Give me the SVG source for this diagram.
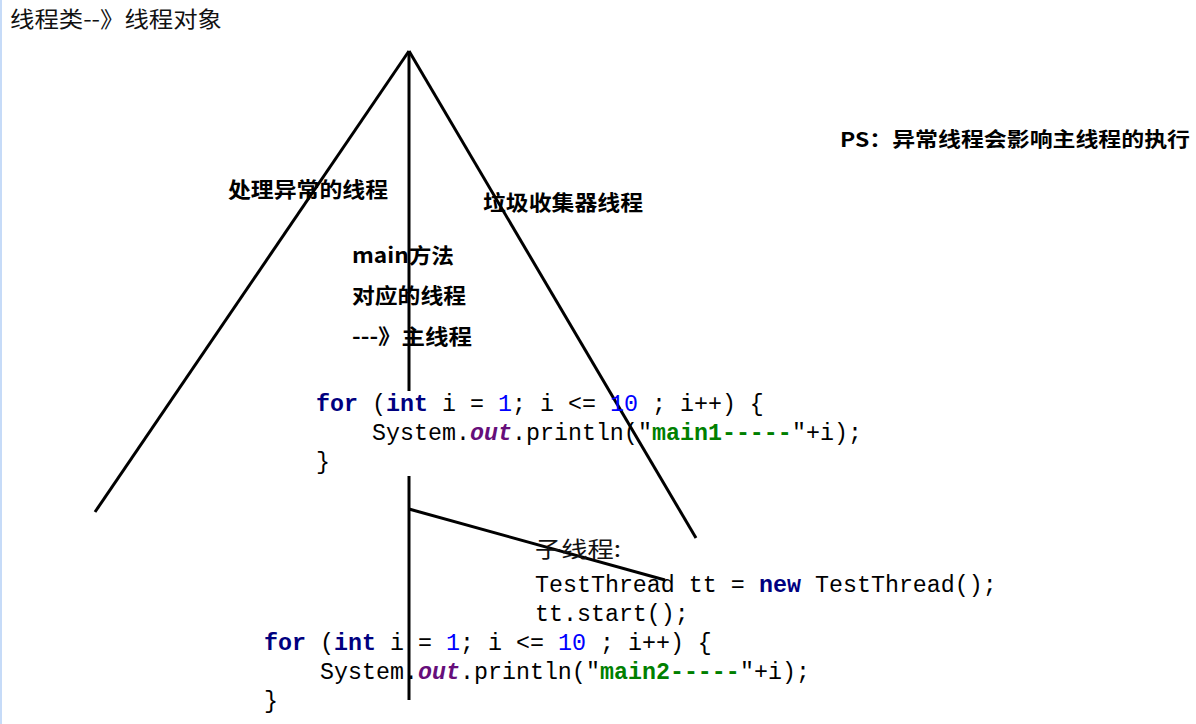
<svg xmlns="http://www.w3.org/2000/svg" width="1196" height="724" viewBox="0 0 1196 724">
<style>
.cjk{font-family:"Noto Sans CJK SC","Noto Sans",sans-serif;fill:#111}
.b{font-weight:bold;font-size:21px;fill:#000}
.code{font-family:"Liberation Mono","DejaVu Sans Mono",monospace;font-size:23.3px;fill:#000}
.kw{font-weight:bold;fill:#00007f}
.num{fill:#0000ff}
.fld{font-weight:bold;font-style:italic;fill:#660e7a}
.str{font-weight:bold;fill:#008000}
.ln{stroke:#000;stroke-width:3;fill:none;stroke-linecap:butt}
</style>
<rect x="0" y="0" width="1196" height="724" fill="#fff"/>
<rect x="0" y="0" width="2" height="724" fill="#c6dbf8"/>
<g id="connectors">
<line class="ln" x1="409" y1="51" x2="95" y2="512" stroke-width="2.5"/>
<line class="ln" x1="409" y1="51" x2="696" y2="538" stroke-width="2.5"/>
<line class="ln" x1="409" y1="51" x2="409" y2="391"/>
<line class="ln" x1="409" y1="476" x2="409" y2="700"/>
<line class="ln" x1="409" y1="509" x2="665" y2="580"/>
</g>
<g id="title"><text class="cjk" x="10" y="27" font-size="22" textLength="212" lengthAdjust="spacingAndGlyphs">线程类--》线程对象</text></g>
<g id="ps-note"><text class="cjk b" x="840" y="147" style="font-size:20px" textLength="350" lengthAdjust="spacingAndGlyphs">PS：异常线程会影响主线程的执行</text></g>
<g id="exception-thread"><text class="cjk b" x="228" y="197" textLength="160" lengthAdjust="spacingAndGlyphs">处理异常的线程</text></g>
<g id="gc-thread"><text class="cjk b" x="483" y="210" textLength="160" lengthAdjust="spacingAndGlyphs">垃圾收集器线程</text></g>
<g id="main-thread">
<text class="cjk b" x="352" y="263" textLength="102" lengthAdjust="spacingAndGlyphs">main方法</text>
<text class="cjk b" x="352" y="303" textLength="114" lengthAdjust="spacingAndGlyphs">对应的线程</text>
<text class="cjk b" x="352" y="344" textLength="120" lengthAdjust="spacingAndGlyphs">---》主线程</text>
</g>
<g id="main1-code" class="code">
<text y="411"><tspan x="316" class="kw">for</tspan><tspan x="372">(</tspan><tspan x="386" class="kw">int</tspan><tspan x="442">i =</tspan><tspan x="498" class="num">1</tspan><tspan x="512">; i &lt;=</tspan><tspan x="610" class="num">10</tspan><tspan x="652">; i++) {</tspan></text>
<text y="440"><tspan x="372">System.</tspan><tspan x="470" class="fld">out</tspan><tspan x="512">.println(</tspan><tspan x="638">"</tspan><tspan x="652" class="str">main1-----</tspan><tspan x="792">"+i);</tspan></text>
<text y="469"><tspan x="316">}</tspan></text>
</g>
<g id="child-thread">
<text class="cjk" x="535" y="557" font-size="22" fill="#222" textLength="86" lengthAdjust="spacingAndGlyphs">子线程:</text>
<text class="code" y="592"><tspan x="535">TestThread tt =</tspan><tspan x="759" class="kw">new</tspan><tspan x="815">TestThread();</tspan></text>
<text class="code" y="621"><tspan x="535">tt.start();</tspan></text>
</g>
<g id="main2-code" class="code">
<text y="650"><tspan x="264" class="kw">for</tspan><tspan x="320">(</tspan><tspan x="334" class="kw">int</tspan><tspan x="390">i =</tspan><tspan x="446" class="num">1</tspan><tspan x="460">; i &lt;=</tspan><tspan x="558" class="num">10</tspan><tspan x="600">; i++) {</tspan></text>
<text y="679"><tspan x="320">System.</tspan><tspan x="418" class="fld">out</tspan><tspan x="460">.println(</tspan><tspan x="586">"</tspan><tspan x="600" class="str">main2-----</tspan><tspan x="740">"+i);</tspan></text>
<text y="708"><tspan x="264">}</tspan></text>
</g>
</svg>
